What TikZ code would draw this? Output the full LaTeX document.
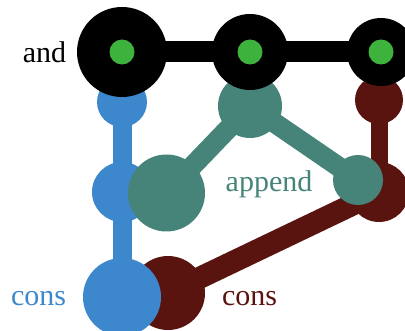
\documentclass[tikz,border=0pt]{standalone}
\usepackage{fontspec}
\setmainfont{Liberation Serif}
\definecolor{cblue}{HTML}{3D88CC}
\definecolor{cteal}{HTML}{46847A}
\definecolor{cred}{HTML}{5A1410}
\definecolor{cgreen}{HTML}{3DB33D}
\begin{document}
\begin{tikzpicture}[x=1pt,y=-1pt,
  lbl/.style={font=\fontsize{30}{30}\selectfont, anchor=base, inner sep=0pt},
  dot/.style={circle, inner sep=0pt, minimum size=#1},
]
\useasboundingbox (0,0) rectangle (405,331);
% red
\node[dot=48pt, fill=cred] (r1) at (379,100) {};
\node[dot=60pt, fill=cred] (r2) at (379,192) {};
\node[dot=74pt, fill=cred] (r3) at (168,293) {};
\draw[cred, line width=17pt] (r1.center) -- (r2.center);
\draw[cred, line width=22pt] (r2.center) -- (r3.center);
% blue
\node[dot=50pt, fill=cblue] (b1) at (122,102) {};
\node[dot=60pt, fill=cblue] (b2) at (122,192) {};
\node[dot=78pt, fill=cblue] (b3) at (122,297) {};
\draw[cblue, line width=19pt] (b1.center) -- (b3.center);
% teal
\node[dot=64pt, fill=cteal] (t1) at (250,106) {};
\node[dot=77pt, fill=cteal] (t2) at (166.5,193) {};
\node[dot=50pt, fill=cteal] (t3) at (358,180) {};
\draw[cteal, line width=20pt] (t2.center) -- (t1.center) -- (t3.center);
% black
\node[dot=90pt, fill=black] (k1) at (122,52) {};
\node[dot=76pt, fill=black] (k2) at (250,52) {};
\node[dot=68pt, fill=black] (k3) at (381,52) {};
\draw[black, line width=21pt] (k1.center) -- (k3.center);
\node[dot=25pt, fill=cgreen] (g1) at (k1.center) {};
\node[dot=25pt, fill=cgreen] (g2) at (k2.center) {};
\node[dot=25pt, fill=cgreen] (g3) at (k3.center) {};
% labels
\node[lbl, text=black] (land) at (44.5,63) {and};
\node[lbl, text=cteal] (lapp) at (269,192) {append};
\node[lbl, text=cblue] (lcb) at (38.5,306) {cons};
\node[lbl, text=cred] (lcr) at (249.5,306) {cons};
\end{tikzpicture}
\end{document}
